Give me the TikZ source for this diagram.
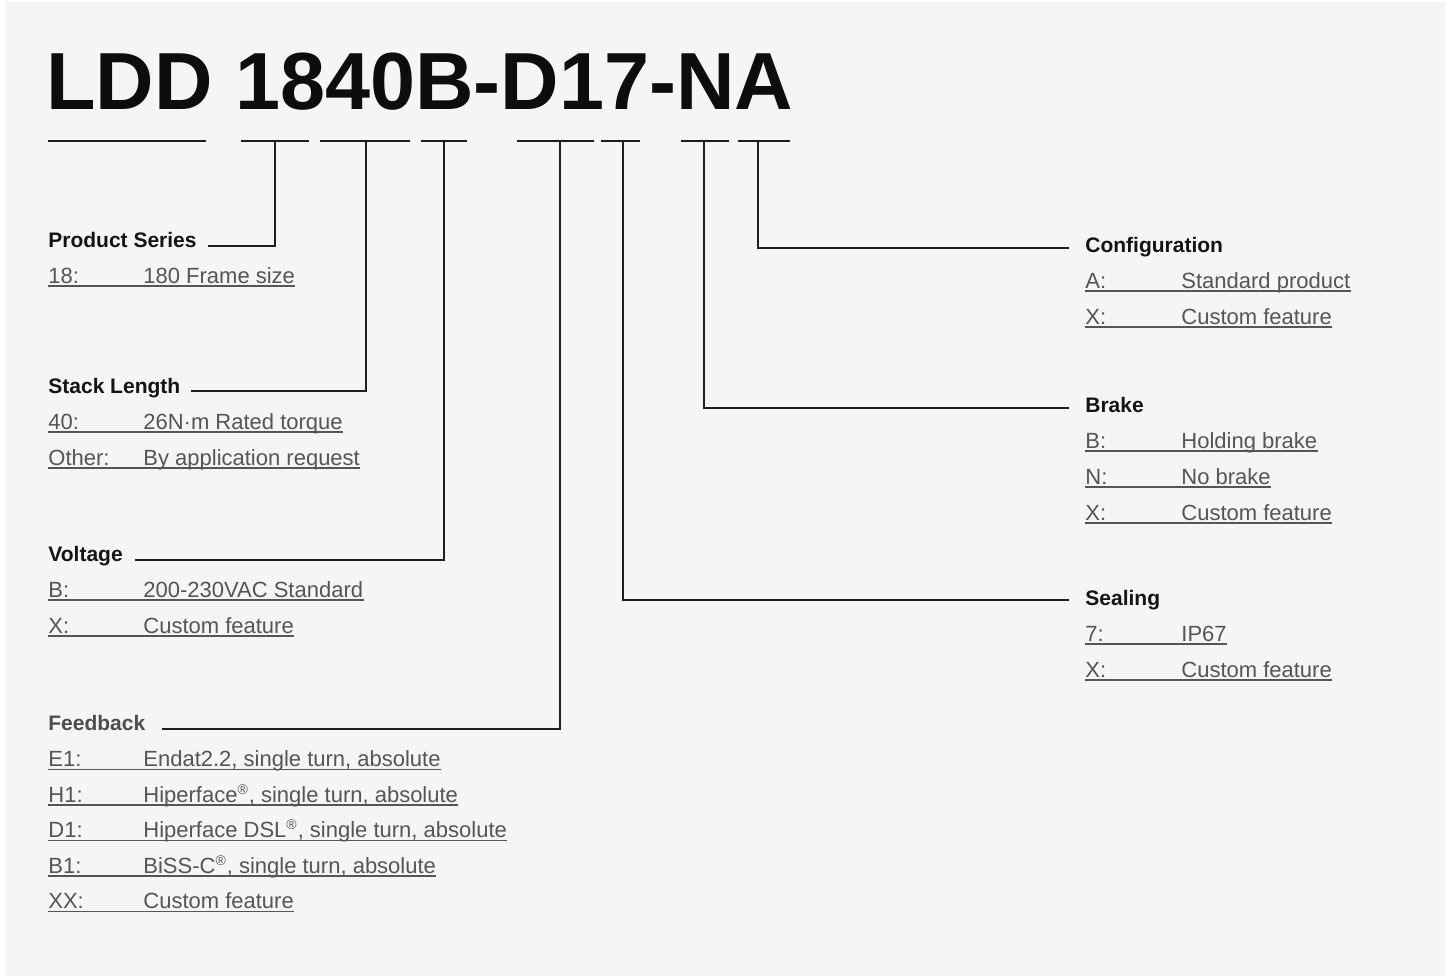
\documentclass[tikz,border=0pt]{standalone}
\usepackage{fontspec}
\setmainfont{Liberation Sans}
\definecolor{bggray}{HTML}{F5F5F5}
\definecolor{optgray}{HTML}{555555}
\definecolor{linegray}{HTML}{1E1E1E}
\definecolor{fbgray}{HTML}{4D4D4D}
\begin{document}
\begin{tikzpicture}[x=0.5pt,y=-0.5pt,
  head/.style={anchor=base west, inner sep=0pt, text=black!92, font=\bfseries\fontsize{10.5}{12}\selectfont},
  opt/.style={anchor=base west, inner sep=0pt, text=optgray, font=\fontsize{11}{13}\selectfont,
    append after command={([yshift=-1.5pt]\tikzlastnode.base west) edge[draw=optgray, line width=0.65pt] ([yshift=-1.5pt]\tikzlastnode.base east)}},
  link/.style={draw=linegray, line width=0.75pt}]
\useasboundingbox (0,0) rectangle (1450,976);
\fill[bggray] (5,2) rectangle (1445,976);

\node[anchor=base west, inner sep=0pt, text=black!95, font=\bfseries\fontsize{40.5}{48}\selectfont] (title) at (46,109) {LDD 1840B-D17-NA};

% marks under the code
\node[coordinate] (v1) at (48,141) {};
\node[coordinate] (v2) at (206,141) {};
\node[coordinate] (v3) at (241,141) {};
\node[coordinate] (v4) at (309,141) {};
\node[coordinate] (v7) at (320,141) {};
\node[coordinate] (v8) at (410,141) {};
\node[coordinate] (v11) at (421,141) {};
\node[coordinate] (v12) at (467,141) {};
\node[coordinate] (v15) at (517,141) {};
\node[coordinate] (v16) at (594,141) {};
\node[coordinate] (v19) at (601,141) {};
\node[coordinate] (v20) at (640,141) {};
\node[coordinate] (v23) at (681,141) {};
\node[coordinate] (v24) at (729,141) {};
\node[coordinate] (v27) at (738,141) {};
\node[coordinate] (v28) at (790,141) {};

\draw[link] (v1)--(v2); \draw[link] (v3)--(v4); \draw[link] (v7)--(v8); \draw[link] (v11)--(v12);
\draw[link] (v15)--(v16); \draw[link] (v19)--(v20); \draw[link] (v23)--(v24); \draw[link] (v27)--(v28);

% leader lines
\node[coordinate] (v5) at (275,141) {};
\node[coordinate] (v6) at (208,246) {};
\node[coordinate] (v9) at (366,141) {};
\node[coordinate] (v10) at (191,391) {};
\node[coordinate] (v13) at (444,141) {};
\node[coordinate] (v14) at (135,560) {};
\node[coordinate] (v17) at (560,141) {};
\node[coordinate] (v18) at (162,729) {};
\node[coordinate] (v21) at (623,141) {};
\node[coordinate] (v22) at (1069,600) {};
\node[coordinate] (v25) at (704,141) {};
\node[coordinate] (v26) at (1069,408) {};
\node[coordinate] (v29) at (758,141) {};
\node[coordinate] (v30) at (1069,248) {};

\draw[link] (v5) |- (v6);
\draw[link] (v9) |- (v10);
\draw[link] (v13) |- (v14);
\draw[link] (v17) |- (v18);
\draw[link] (v21) |- (v22);
\draw[link] (v25) |- (v26);
\draw[link] (v29) |- (v30);

% left column
\node[head] (series) at (48,247) {Product Series};
\node[opt] (series1) at (48,283) {\makebox[47.5pt][l]{18:}180 Frame size};

\node[head] (stack) at (48,393) {Stack Length};
\node[opt] (stack1) at (48,429) {\makebox[47.5pt][l]{40:}26N·m Rated torque};
\node[opt] (stack2) at (48,465) {\makebox[47.5pt][l]{Other:}By application request};

\node[head] (voltage) at (48,561) {Voltage};
\node[opt] (voltage1) at (48,597) {\makebox[47.5pt][l]{B:}200-230VAC Standard};
\node[opt] (voltage2) at (48,633) {\makebox[47.5pt][l]{X:}Custom feature};

\node[head, text=fbgray] (feedback) at (48,730) {Feedback};
\node[opt] (feedback1) at (48,766.5) {\makebox[47.5pt][l]{E1:}Endat2.2, single turn, absolute};
\node[opt] (feedback2) at (48,802) {\makebox[47.5pt][l]{H1:}Hiperface\textsuperscript{\scriptsize ®}, single turn, absolute};
\node[opt] (feedback3) at (48,837.5) {\makebox[47.5pt][l]{D1:}Hiperface DSL\textsuperscript{\scriptsize ®}, single turn, absolute};
\node[opt] (feedback4) at (48,873) {\makebox[47.5pt][l]{B1:}BiSS-C\textsuperscript{\scriptsize ®}, single turn, absolute};
\node[opt] (feedback5) at (48,908.5) {\makebox[47.5pt][l]{XX:}Custom feature};

% right column
\node[head] (config) at (1085,252) {Configuration};
\node[opt] (config1) at (1085,288) {\makebox[48pt][l]{A:}Standard product};
\node[opt] (config2) at (1085,324) {\makebox[48pt][l]{X:}Custom feature};

\node[head] (brake) at (1085,412) {Brake};
\node[opt] (brake1) at (1085,448) {\makebox[48pt][l]{B:}Holding brake};
\node[opt] (brake2) at (1085,484) {\makebox[48pt][l]{N:}No brake};
\node[opt] (brake3) at (1085,520) {\makebox[48pt][l]{X:}Custom feature};

\node[head] (sealing) at (1085,605) {Sealing};
\node[opt] (sealing1) at (1085,641) {\makebox[48pt][l]{7:}IP67};
\node[opt] (sealing2) at (1085,677) {\makebox[48pt][l]{X:}Custom feature};

\end{tikzpicture}
\end{document}
